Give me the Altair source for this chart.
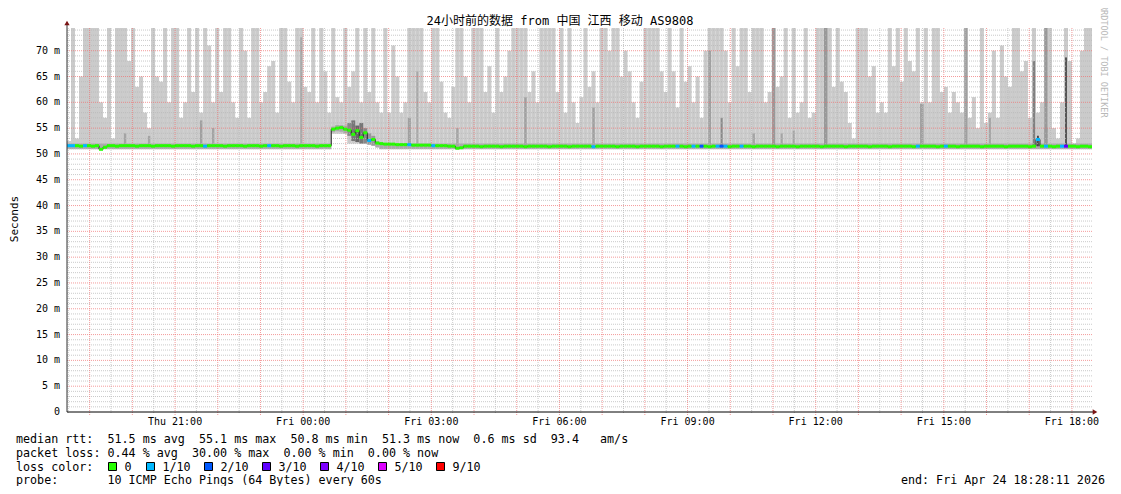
import altair as alt
import pandas as pd

# ---------------- time frame (hours since Thu 00:00) ----------------
start_h = 18 + 28 / 60 + 11 / 3600          # Thu 18:28:11
end_h = start_h + 24                          # Fri 18:28:11
n_bins = 256
bin_h = (end_h - start_h) / n_bins
y_top = 74.4

# ---------------- data ----------------
# top of the light smoke (max ping) per time bin, values >= y_top are clipped
smoke_top = [
    52.5, 75, 53, 65, 75, 75, 75, 75, 60, 57, 75, 53, 75, 75, 75, 68,
    75, 63, 65, 58, 55, 75, 65, 64, 75, 60, 75, 75, 57, 60, 75, 62,
    75, 58, 75, 71, 60, 75, 62, 75, 75, 60, 57, 75, 70, 57, 75, 75,
    60, 62, 67, 68, 58, 75, 75, 64, 60, 75, 75, 63, 62, 75, 60, 75,
    66, 58, 75, 61, 60, 75, 63, 66, 75, 60, 75, 62, 75, 60, 58, 75,
    58, 71, 65, 58, 60, 75, 75, 75, 75, 62, 60, 75, 75, 64, 58, 57,
    63, 75, 75, 65, 60, 75, 75, 75, 62, 67, 58, 75, 62, 65, 70, 75,
    75, 75, 75, 62, 66, 60, 75, 75, 75, 75, 62, 75, 58, 75, 60, 56,
    61, 75, 63, 66, 60, 75, 75, 70, 75, 75, 65, 70, 66, 60, 57, 64,
    75, 75, 75, 75, 66, 62, 75, 66, 59, 75, 64, 67, 60, 65, 57, 70,
    75, 75, 75, 75, 70, 60, 75, 67, 75, 75, 62, 75, 75, 75, 60, 62,
    75, 63, 65, 75, 57, 75, 58, 60, 75, 57, 58, 75, 75, 75, 75, 63,
    75, 64, 62, 56, 53, 75, 75, 75, 65, 67, 58, 60, 58, 75, 67, 75,
    64, 75, 68, 66, 75, 60, 75, 60, 75, 75, 62, 63, 58, 62, 60, 58,
    75, 57, 61, 55, 75, 56, 58, 70, 57, 71, 65, 63, 75, 75, 66, 68,
    57, 75, 58, 60, 55, 75, 55, 53, 60, 75, 68, 52, 53, 70, 75, 75,
]
smoke_low_default = 50.9
smoke_low_override = {66: 53.9, 67: 53.9, 68: 53.9, 69: 53.9, 70: 52.0, 71: 52.0,
                      72: 52.0, 73: 52.0, 74: 52.0, 75: 51.8, 76: 51.6, 77: 51.2}

# darker inner smoke band (low, high) per bin
band_default = (50.95, 52.0)
band_override = {66: (54.2, 55.3), 67: (54.4, 55.6), 68: (54.3, 55.6), 69: (54.0, 55.5),
                 77: (51.3, 52.5)}
band_skip = [70, 71, 72, 73, 74, 75, 76]

# darker smoke spikes: bin, low, high, colour, width (fraction of bin)
spike_bin = [14, 20, 33, 36, 58, 70, 71, 72, 73, 74, 75, 76, 85, 87, 97, 114, 131,
             160, 163, 171, 176, 178, 181, 189, 213, 224, 230, 241, 242, 244, 249]
spike_low = [51.5, 51.5, 51.5, 51.5, 51.5, 53.5, 52.5, 52.3, 52.0, 52.0, 51.8, 51.6, 51.5, 51.5,
             51.5, 51.5, 51.5, 51.5, 51.5, 51.5, 51.5, 51.5, 51.5, 51.5, 51.5, 51.5,
             51.5, 51.5, 51.5, 51.5, 51.5]
spike_high = [54.0, 53.5, 56.5, 55.0, 72.6, 56.0, 56.5, 55.5, 56.0, 55.0, 54.0, 53.5, 57.0, 66.0,
              55.0, 61.0, 59.0, 70.0, 57.0, 54.0, 75, 54.0, 54.5, 75, 59.7, 75,
              57.0, 68.0, 53.5, 75, 68.7]
spike_color = ["#a4a4a4", "#a4a4a4", "#a0a0a0", "#a4a4a4", "#a8a8a8", "#888888", "#777777",
               "#666666", "#777777", "#888888", "#999999", "#999999", "#a0a0a0", "#a8a8a8",
               "#a4a4a4", "#a0a0a0", "#a0a0a0", "#a0a0a0", "#888888", "#a4a4a4", "#999999",
               "#a4a4a4", "#a4a4a4", "#999999", "#a0a0a0", "#a0a0a0", "#a4a4a4", "#808080",
               "#333333", "#999999", "#555555"]
spike_width = [0.6, 0.6, 0.6, 0.6, 0.5, 1, 1, 1, 1, 1, 1, 1, 0.8, 0.5, 0.6, 0.6, 0.6,
               0.7, 0.5, 0.6, 0.8, 0.5, 0.5, 0.9, 0.9, 0.8, 0.5, 0.6, 0.4, 0.9, 0.5]

# median rtt per bin (ms)
median = [
    51.6, 51.6, 51.6, 51.5, 51.6, 51.6, 51.5, 51.6, 50.9, 51.3, 51.6, 51.6, 51.5, 51.6, 51.6, 51.6,
    51.6, 51.5, 51.6, 51.6, 51.6, 51.5, 51.6, 51.6, 51.6, 51.6, 51.5, 51.6, 51.6, 51.6, 51.6, 51.5,
    51.6, 51.6, 51.5, 51.6, 51.6, 51.6, 51.6, 51.5, 51.6, 51.6, 51.6, 51.6, 51.5, 51.6, 51.6, 51.6,
    51.5, 51.6, 51.6, 51.6, 51.6, 51.5, 51.6, 51.6, 51.6, 51.5, 51.6, 51.6, 51.6, 51.6, 51.5, 51.6,
    51.6, 51.6, 54.8, 55.0, 55.1, 54.8, 54.6, 53.8, 54.5, 53.2, 54.1, 52.6, 52.8, 52.1, 52.0, 51.9,
    51.9, 51.9, 51.8, 51.8, 51.8, 51.8, 51.7, 51.7, 51.7, 51.7, 51.7, 51.6, 51.6, 51.6, 51.6, 51.5,
    51.5, 51.1, 51.2, 51.5, 51.5, 51.5, 51.5, 51.4, 51.5, 51.5, 51.5, 51.5, 51.4, 51.5, 51.5, 51.5,
    51.5, 51.5, 51.4, 51.5, 51.5, 51.5, 51.5, 51.5, 51.4, 51.5, 51.5, 51.5, 51.5, 51.4, 51.5, 51.5,
    51.5, 51.5, 51.5, 51.4, 51.5, 51.5, 51.5, 51.5, 51.5, 51.4, 51.5, 51.5, 51.5, 51.5, 51.4, 51.5,
    51.5, 51.5, 51.5, 51.5, 51.4, 51.5, 51.5, 51.5, 51.5, 51.5, 51.4, 51.5, 51.5, 51.5, 51.5, 51.5,
    51.4, 51.5, 51.5, 51.5, 51.5, 51.4, 51.5, 51.5, 51.5, 51.5, 51.5, 51.4, 51.5, 51.5, 51.5, 51.5,
    51.5, 51.4, 51.5, 51.5, 51.5, 51.5, 51.4, 51.5, 51.5, 51.5, 51.5, 51.5, 51.4, 51.5, 51.5, 51.5,
    51.5, 51.5, 51.4, 51.5, 51.5, 51.5, 51.5, 51.5, 51.4, 51.5, 51.5, 51.5, 51.5, 51.4, 51.5, 51.5,
    51.5, 51.5, 51.5, 51.4, 51.5, 51.5, 51.5, 51.5, 51.5, 51.4, 51.5, 51.5, 51.5, 51.5, 51.4, 51.5,
    51.5, 51.5, 51.5, 51.5, 51.4, 51.5, 51.5, 51.5, 51.5, 51.5, 51.4, 51.5, 51.5, 51.5, 51.5, 51.5,
    51.4, 51.5, 52.8, 51.5, 51.5, 51.5, 51.4, 51.5, 51.5, 51.5, 51.5, 51.5, 51.4, 51.5, 51.5, 51.4,
]
# packet loss (x/10) per bin, 0 where not listed
loss_bins = [0, 1, 4, 34, 50, 75, 85, 91, 131, 152, 156, 158, 162, 163, 164, 168,
             212, 219, 242, 244, 248, 249]
loss_vals = [1, 1, 1, 1, 1, 1, 1, 1, 1, 1, 1, 2, 1, 2, 1, 1,
             1, 1, 1, 1, 1, 3]

loss_labels = ["0", "1/10", "2/10", "3/10", "4/10", "5/10", "9/10"]
loss_levels = [0, 1, 2, 3, 4, 5, 9]
loss_colors = ["#26ff00", "#00b8ff", "#0059ff", "#5e00ff", "#7e00ff", "#dd00ff", "#ff0000"]

# axes
y_tick_values = [0, 5, 10, 15, 20, 25, 30, 35, 40, 45, 50, 55, 60, 65, 70]
y_tick_labels = ["0", "5 m", "10 m", "15 m", "20 m", "25 m", "30 m", "35 m", "40 m",
                 "45 m", "50 m", "55 m", "60 m", "65 m", "70 m"]
x_tick_hours = [21, 24, 27, 30, 33, 36, 39, 42]
x_tick_labels = ["Thu 21:00", "Fri 00:00", "Fri 03:00", "Fri 06:00", "Fri 09:00",
                 "Fri 12:00", "Fri 15:00", "Fri 18:00"]
x_major_grid = list(range(19, 43))
x_minor_grid = [h + 0.5 for h in range(18, 42)]
y_major_grid = [5, 10, 15, 20, 25, 30, 35, 40, 45, 50, 55, 60, 65, 70]
y_minor_grid = [v for v in range(1, 75) if v % 5 != 0]

title_text = "24小时前的数据 from 中国 江西 移动 AS9808"
legend_rows = [
    "median rtt:  51.5 ms avg  55.1 ms max  50.8 ms min  51.3 ms now  0.6 ms sd  93.4   am/s",
    "packet loss: 0.44 % avg  30.00 % max  0.00 % min  0.00 % now",
    "loss color:",
    "probe:       10 ICMP Echo Pings (64 Bytes) every 60s",
]
end_text = "end: Fri Apr 24 18:28:11 2026"

# ---------------- build tables ----------------
W, H = 1025, 384
MONO = "DejaVu Sans Mono"
CJK = "DejaVu Sans Mono, Noto Sans CJK SC"
XS = alt.Scale(domain=[start_h, end_h], nice=False, zero=False)
YS = alt.Scale(domain=[0, y_top], nice=False, zero=True)

def nb(s):
    return s.replace(" ", "\u00a0")

smoke_rows, band_rows, med_rows, line_rows = [], [], [], []
loss_map = dict(zip(loss_bins, loss_vals))
col_map = dict(zip(loss_levels, loss_colors))
for i in range(n_bins):
    h0 = start_h + i * bin_h
    h1 = h0 + bin_h
    lo = smoke_low_override.get(i, smoke_low_default)
    smoke_rows.append({"h0": h0, "h1": h1, "lo": lo, "hi": min(smoke_top[i], y_top)})
    if i not in band_skip:
        b = band_override.get(i, band_default)
        band_rows.append({"h0": h0, "h1": h1, "lo": b[0], "hi": b[1]})
    med_rows.append({"h0": h0, "h1": h1, "m": median[i], "c": col_map[loss_map.get(i, 0)]})
    line_rows.append({"h": h0, "m": median[i]})
line_rows.append({"h": end_h, "m": median[-1]})

spike_rows = []
for b, lo, hi, c, w in zip(spike_bin, spike_low, spike_high, spike_color, spike_width):
    h0 = start_h + (b + (1 - w) / 2) * bin_h
    spike_rows.append({"h0": h0, "h1": h0 + w * bin_h, "lo": lo, "hi": min(hi, y_top), "c": c})

smoke = alt.Chart(pd.DataFrame(smoke_rows)).mark_rect(color="#cbcbcb", clip=True).encode(
    x=alt.X("h0:Q", scale=XS, axis=None), x2="h1:Q",
    y=alt.Y("lo:Q", scale=YS, axis=None), y2="hi:Q")
band = alt.Chart(pd.DataFrame(band_rows)).mark_rect(color="#aaaaaa", clip=True).encode(
    x=alt.X("h0:Q", scale=XS, axis=None), x2="h1:Q",
    y=alt.Y("lo:Q", scale=YS, axis=None), y2="hi:Q")
spikes = alt.Chart(pd.DataFrame(spike_rows)).mark_rect(clip=True).encode(
    x=alt.X("h0:Q", scale=XS, axis=None), x2="h1:Q",
    y=alt.Y("lo:Q", scale=YS, axis=None), y2="hi:Q",
    color=alt.Color("c:N", scale=None))

def hgrid(vals, color, op):
    return alt.Chart(pd.DataFrame({"v": vals})).mark_rule(
        color=color, strokeDash=[1, 1], strokeWidth=1, opacity=op).encode(
        y=alt.Y("v:Q", scale=YS, axis=None), x=alt.value(0), x2=alt.value(W))

def vgrid(vals, color, op, bottom):
    return alt.Chart(pd.DataFrame({"h": vals})).mark_rule(
        color=color, strokeDash=[1, 1], strokeWidth=1, opacity=op).encode(
        x=alt.X("h:Q", scale=XS, axis=None), y=alt.value(0), y2=alt.value(bottom))

grid_minor_y = hgrid(y_minor_grid, "#b8b8b8", 0.75)
grid_minor_x = vgrid(x_minor_grid, "#b8b8b8", 0.75, H + 2)
grid_major_y = hgrid(y_major_grid, "#f07070", 0.7)
grid_major_x = vgrid(x_major_grid, "#f07070", 0.7, H + 3)

med_line = alt.Chart(pd.DataFrame(line_rows)).mark_line(
    color="#202020", strokeWidth=1, interpolate="step-after").encode(
    x=alt.X("h:Q", scale=XS, axis=None), y=alt.Y("m:Q", scale=YS, axis=None))
med_col = alt.Chart(pd.DataFrame(med_rows)).mark_rule(strokeWidth=3).encode(
    x=alt.X("h0:Q", scale=XS, axis=None), x2="h1:Q",
    y=alt.Y("m:Q", scale=YS, axis=None), color=alt.Color("c:N", scale=None))

one = pd.DataFrame({"k": [0]})
y_axis_line = alt.Chart(one).mark_rule(color="#303030", strokeWidth=1).encode(
    x=alt.value(0), y=alt.value(H), y2=alt.value(-5))
x_axis_line = alt.Chart(one).mark_rule(color="#000000", strokeWidth=1).encode(
    x=alt.value(0), x2=alt.value(W + 3), y=alt.value(H))
arrow_up = alt.Chart(one).mark_point(shape="triangle-up", filled=True, size=28,
                                     color="#7a1414", opacity=1).encode(
    x=alt.value(0), y=alt.value(-5))
arrow_right = alt.Chart(one).mark_point(shape="triangle-right", filled=True, size=28,
                                        color="#7a1414", opacity=1).encode(
    x=alt.value(W + 3), y=alt.value(H))

y_labels = alt.Chart(pd.DataFrame({"v": y_tick_values, "t": y_tick_labels})).mark_text(
    font=MONO, fontSize=10, align="right", baseline="middle", color="#000000").encode(
    x=alt.value(-7), y=alt.Y("v:Q", scale=YS, axis=None), text="t:N")
x_labels = alt.Chart(pd.DataFrame({"h": x_tick_hours, "t": x_tick_labels})).mark_text(
    font=MONO, fontSize=10, align="center", baseline="middle", color="#000000").encode(
    x=alt.X("h:Q", scale=XS, axis=None), y=alt.value(H + 9.5), text="t:N")

title = alt.Chart(pd.DataFrame({"t": [title_text]})).mark_text(
    font=CJK, fontSize=12, align="center", baseline="middle", color="#000000").encode(
    x=alt.value(493), y=alt.value(-7), text="t:N")
ylab = alt.Chart(pd.DataFrame({"t": ["Seconds"]})).mark_text(
    font=MONO, fontSize=11, angle=270, align="center", baseline="middle",
    color="#000000").encode(x=alt.value(-52), y=alt.value(191), text="t:N")
credit = alt.Chart(pd.DataFrame({"t": [nb("RRDTOOL / TOBI OETIKER")]})).mark_text(
    font=MONO, fontSize=8.5, angle=90, align="left", baseline="middle",
    color="#b8b8b8").encode(x=alt.value(1037), y=alt.value(-23), text="t:N")

leg_df = pd.DataFrame({"t": [nb(s) for s in legend_rows], "y": [410.5, 424.5, 438.5, 452]})
legend_text = alt.Chart(leg_df).mark_text(
    font=MONO, fontSize=11.7, align="left", baseline="middle", color="#000000").encode(
    x=alt.value(-51), y=alt.Y("y:Q", scale=None), text="t:N")
end_lab = alt.Chart(pd.DataFrame({"t": [nb(end_text)]})).mark_text(
    font=MONO, fontSize=11.7, align="right", baseline="middle", color="#000000").encode(
    x=alt.value(1038), y=alt.value(452), text="t:N")

box_x = [45.5, 83.5, 141.5, 199.5, 257.5, 315.5, 373.5]
box_df = pd.DataFrame({"bx": box_x, "lx": [b + 12 for b in box_x], "c": loss_colors,
                       "t": loss_labels, "y": [438.5] * 7})
boxes = alt.Chart(box_df).mark_square(size=64, stroke="#000000", strokeWidth=1, opacity=1).encode(
    x=alt.X("bx:Q", scale=None), y=alt.Y("y:Q", scale=None), fill=alt.Fill("c:N", scale=None))
box_labels = alt.Chart(box_df).mark_text(
    font=MONO, fontSize=11.7, align="left", baseline="middle", color="#000000").encode(
    x=alt.X("lx:Q", scale=None), y=alt.Y("y:Q", scale=None), text="t:N")

chart = alt.layer(
    smoke, band, spikes,
    grid_minor_y, grid_minor_x, grid_major_y, grid_major_x,
    med_line, med_col,
    y_axis_line, x_axis_line, arrow_up, arrow_right,
    y_labels, x_labels, title, ylab, credit,
    legend_text, end_lab, boxes, box_labels,
).properties(
    width=W, height=H,
    padding={"left": 59, "top": 20, "right": 21, "bottom": 74},
    autosize=alt.AutoSizeParams(type="none"),
    background="#ffffff",
).configure_view(stroke=None)

chart.save("out.html", embed_options={"renderer": "svg", "actions": False})
